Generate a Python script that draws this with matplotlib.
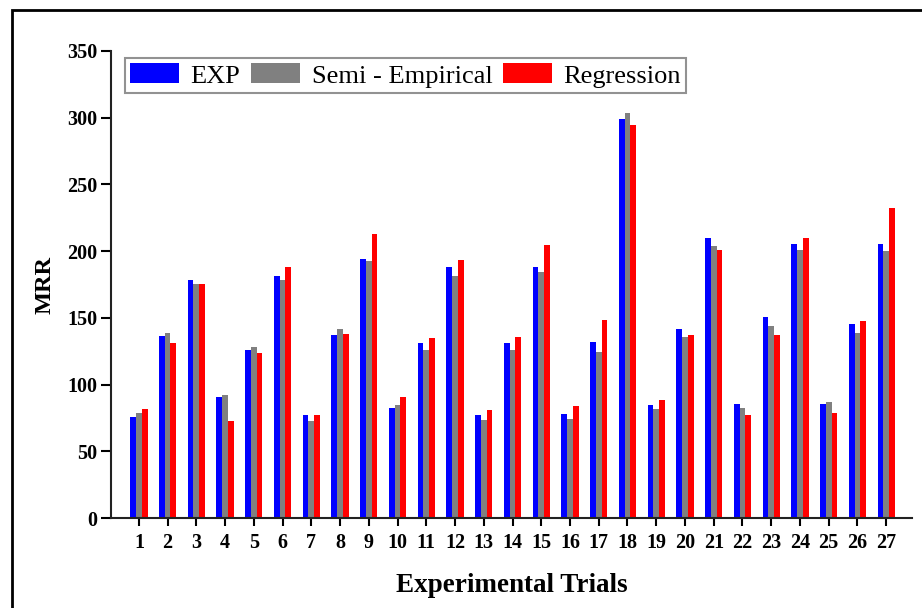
import matplotlib
matplotlib.use('Agg')
import matplotlib.pyplot as plt
import numpy as np
from matplotlib.patches import Rectangle

plt.rcParams['font.family'] = ['Liberation Serif', 'DejaVu Serif']

trials = list(range(1, 28))
exp_mrr = [75.6, 136.2, 178.6, 90.7, 125.7, 181.2, 77.0, 136.9, 194.2,
           82.2, 131.0, 188.4, 77.4, 131.0, 188.0, 78.0, 131.7, 298.9,
           84.9, 141.4, 210.1, 85.5, 150.4, 205.6, 85.5, 145.4, 205.6]
semi_mrr = [78.9, 138.4, 175.6, 92.0, 128.0, 178.2, 72.5, 141.9, 192.7,
            84.5, 125.7, 181.4, 73.5, 125.7, 184.4, 74.0, 124.7, 303.4,
            81.7, 135.4, 203.9, 82.7, 144.2, 201.1, 87.2, 138.4, 199.9]
reg_mrr = [81.4, 131.2, 175.2, 72.9, 123.7, 188.0, 77.4, 137.9, 212.7,
           90.7, 134.9, 193.6, 81.0, 135.4, 204.4, 83.7, 148.7, 294.4,
           88.5, 137.4, 201.1, 77.4, 136.9, 210.1, 78.7, 147.9, 232.2]
series_names = ['EXP', 'Semi - Empirical', 'Regression']

fig = plt.figure(figsize=(9.22, 6.08), dpi=100)
ax = fig.add_axes([111 / 922, 90 / 608, 801 / 922, 467 / 608])

x = np.array(trials)
w = 0.2
ax.bar(x - w, exp_mrr, w, color='#0000FF', label=series_names[0])
ax.bar(x, semi_mrr, w, color='#808080', label=series_names[1])
ax.bar(x + w, reg_mrr, w, color='#FF0000', label=series_names[2])

ax.set_xlim(0.03, 27.9)
ax.set_ylim(0, 350)
ax.set_xticks(trials)
ax.set_yticks(range(0, 351, 50))
for s in ['top', 'right']:
    ax.spines[s].set_visible(False)
for s in ['left', 'bottom']:
    ax.spines[s].set_linewidth(1.5)
    ax.spines[s].set_color('#222222')
ax.tick_params(axis='x', direction='out', length=6, width=1.5, labelsize=14.5, pad=5)
ax.tick_params(axis='y', direction='out', length=7, width=1.5, labelsize=14.5, pad=3)
for lab in ax.get_xticklabels() + ax.get_yticklabels():
    lab.set_fontweight('bold')

ax.set_xlabel('Experimental Trials', fontsize=19.5, fontweight='bold', labelpad=14)
ax.set_ylabel('MRR', fontsize=17.5, fontweight='bold', labelpad=8)

leg = ax.legend(loc='upper left', bbox_to_anchor=(0.017, 0.985), ncol=3,
                fontsize=19, frameon=True, fancybox=False, borderaxespad=0,
                handlelength=1.85, handleheight=0.8, handletextpad=0.45,
                columnspacing=0.4, borderpad=0.2)
leg.get_frame().set_edgecolor('#777777')
leg.get_frame().set_linewidth(1.5)

fig.patches.append(Rectangle((12 / 922, -0.1), 1.2, 1.1 - 10 / 608,
                             transform=fig.transFigure, fill=False,
                             edgecolor='black', linewidth=2))

fig.savefig('out.png', dpi=100)
